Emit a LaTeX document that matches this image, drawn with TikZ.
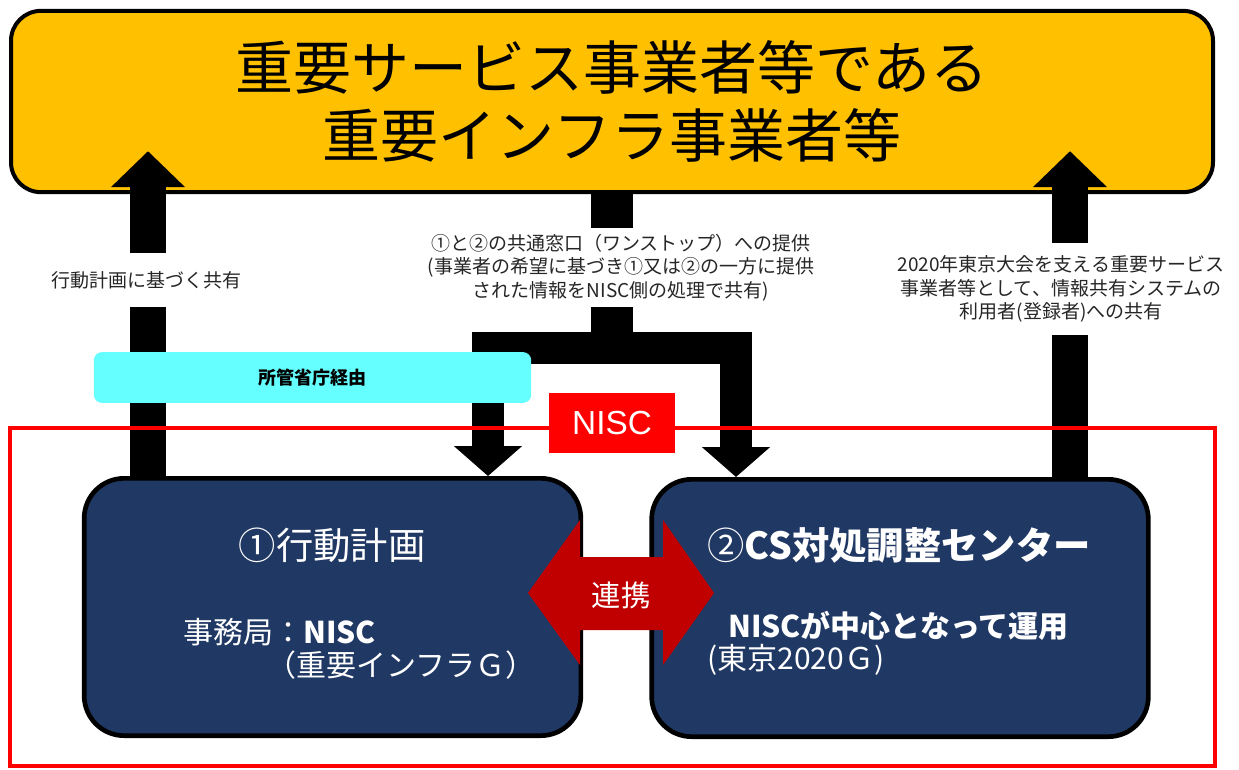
\documentclass[tikz,border=0pt]{standalone}
\usepackage{fontspec}
\setmainfont{Noto Sans CJK JP}
\newfontfamily\niscfont{Liberation Sans}
\usetikzlibrary{arrows.meta,calc}
\definecolor{jigyo-yellow}{HTML}{FFC000}
\definecolor{nisc-navy}{HTML}{203864}
\definecolor{renkei-red}{HTML}{C00000}
\definecolor{shokan-cyan}{HTML}{66FFFF}

\begin{document}
\begin{tikzpicture}[
    x=0.75pt, y=-0.75pt,
    jigyosha/.style={
        draw=black, fill=jigyo-yellow, line width=3pt, rounded corners=22.5pt,
        minimum width=901.5pt, minimum height=136pt, align=center,
        font=\fontsize{43.5}{51}\selectfont,
    },
    soshiki/.style={
        draw=black, fill=nisc-navy, line width=3.5pt, rounded corners=30pt,
        minimum width=372.5pt, minimum height=193pt,
    },
    boxtitle/.style={ text=white, inner sep=0pt, font=\fontsize{28}{34}\selectfont, },
    boxbody/.style={ text=white, inner sep=0pt, anchor=west, font=\fontsize{22.5}{26}\selectfont, },
    upshaft/.style={ line width=27pt, -{Triangle[width=54pt,length=27pt]}, },
    downbranch/.style={ line width=24pt, -{Triangle[width=50pt,length=22.5pt]}, },
    teikyo/.style={
        fill=white, text=black!85, align=center, inner xsep=3pt,
        font=\fontsize{14.25}{17.6}\selectfont,
    },
    keiyu/.style={
        fill=shokan-cyan, rounded corners=6pt, minimum width=328pt, minimum height=38pt,
        font=\bfseries\fontsize{13.5}{16}\selectfont,
    },
]
\useasboundingbox (0,0) rectangle (1239,769);

\node[jigyosha] (jigyosha) at (612,101.5) {重要サービス事業者等である\\重要インフラ事業者等};
\node[soshiki] (kodo) at (332.5,607) {};
\node[soshiki] (csc) at (900,608) {};

\draw[upshaft] ($(kodo.north)+(-184.5,0)$) -- ($(jigyosha.south)+(-464,-43)$);
\draw[upshaft] ($(csc.north)+(170,0)$) -- ($(jigyosha.south)+(458,-43)$);
\coordinate (hub) at (612,348);
\draw[line width=31.5pt] (jigyosha.south) -- (hub);
\draw[downbranch] (hub) -| ($(kodo.north)+(155.5,0)$);
\draw[downbranch] (hub) -| ($(csc.north)+(-164,0)$);

\node[teikyo, minimum height=41pt] (kodo-lbl) at (146.5,280) {行動計画に基づく共有};
\node[teikyo, minimum height=59pt] (onestop-lbl) at (621,267.5)
    {①と②の共通窓口（ワンストップ）への提供\\(事業者の希望に基づき①又は②の一方に提供\\された情報をNISC側の処理で共有)};
\node[teikyo, minimum height=69pt] (tokyo-lbl) at (1061,289)
    {2020年東京大会を支える重要サービス\\事業者等として、情報共有システムの\\利用者(登録者)への共有};

\node[keiyu] (shokan) at (312.5,377.5) {所管省庁経由};

\draw[red, line width=3pt] (10,428) rectangle (1215,766);
\node[fill=red, text=white, minimum width=94.5pt, minimum height=45pt,
    font=\niscfont\fontsize{25}{30}\selectfont] (nisc-tag) at (612,423) {NISC};

\fill[renkei-red] (528,593) -- (580,520) -- (580,557) -- (663,557) -- (663,520)
    -- (714,593) -- (663,665) -- (663,630) -- (580,630) -- (580,665) -- cycle;
\node[text=white, font=\fontsize{22}{26}\selectfont] (renkei) at (621,595) {連携};

\node[boxtitle] (kodo-title) at (332,545) {①行動計画};
\node[boxbody] (kodo-jimu) at (183,632) {事務局：\textbf{NISC}};
\node[boxbody] (kodo-group) at (266,665) {（重要インフラＧ）};
\node[boxtitle, anchor=west] (csc-title) at (707,545) {②\textbf{CS対処調整センター}};
\node[boxbody] (csc-unyo) at (728,626) {\textbf{NISCが中心となって運用}};
\node[boxbody] (csc-group) at (707,660) {(東京2020Ｇ)};
\end{tikzpicture}
\end{document}
